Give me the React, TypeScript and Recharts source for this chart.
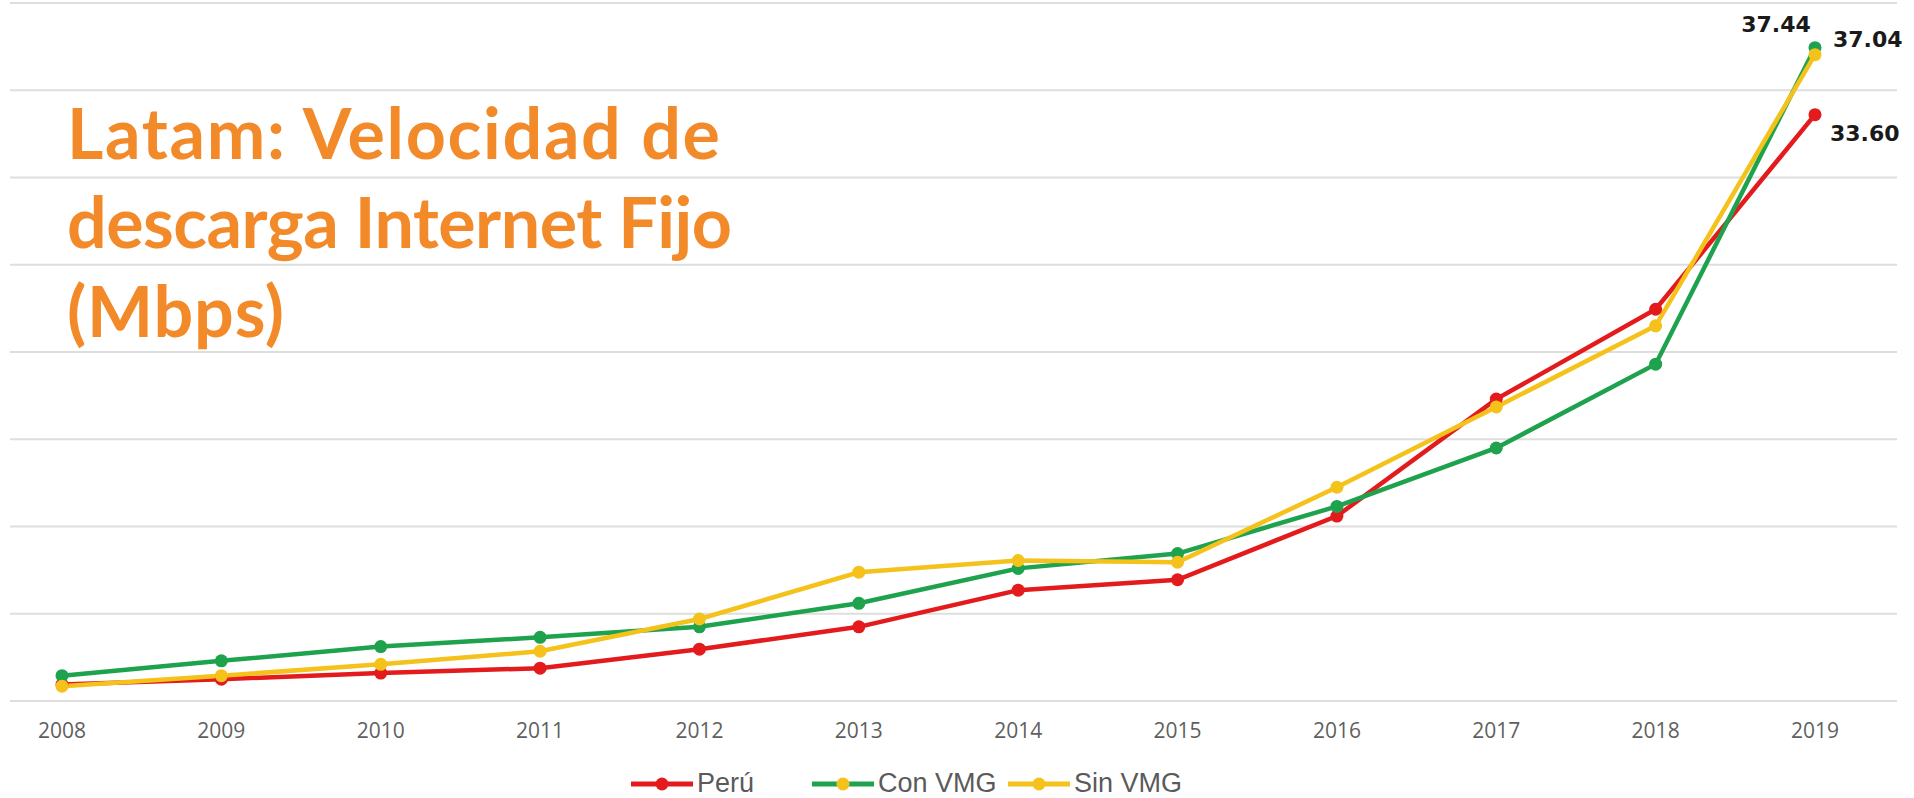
import React from 'react';
import { LineChart, Line, XAxis, YAxis, CartesianGrid, Legend, LabelList } from 'recharts';

const years = ['2008', '2009', '2010', '2011', '2012', '2013', '2014', '2015', '2016', '2017', '2018', '2019'];
const peru = [0.95, 1.25, 1.6, 1.88, 2.97, 4.25, 6.35, 6.95, 10.6, 17.3, 22.45, 33.6];
const conVMG = [1.45, 2.3, 3.12, 3.65, 4.25, 5.6, 7.6, 8.45, 11.15, 14.5, 19.3, 37.44];
const sinVMG = [0.85, 1.45, 2.1, 2.85, 4.7, 7.38, 8.05, 7.95, 12.25, 16.85, 21.5, 37.04];
const yTicks = [0, 5, 10, 15, 20, 25, 30, 35, 40];
const titleLines = ['Latam: Velocidad de', 'descarga Internet Fijo', '(Mbps)'];
const seriesOrder = ['peru', 'con', 'sin'];

const data = years.map((y, i) => ({ year: y, peru: peru[i], con: conVMG[i], sin: sinVMG[i] }));

const COLORS = { peru: '#e31b1d', con: '#1fa24d', sin: '#f4c21a' };
const LEGEND_DOT = { peru: '#e31b1d', con: '#f4c21a', sin: '#f4c21a' };
const LEGEND_ITEM_W = [181, 196, 180];
const TITLE_W = [653, 665, 217];
const LABEL_OFFSET: Record<string, { dx: number; dy: number; anchor: string }> = {
  peru: { dx: 15, dy: 26, anchor: 'start' },
  con: { dx: -39, dy: -16, anchor: 'middle' },
  sin: { dx: 18, dy: -8, anchor: 'start' },
};

const Tick = (props: any) => {
  const { x, y, payload } = props;
  return (
    <text x={x} y={y} dy={37} textAnchor="middle" fill="#5f5f5f" fontSize={21} fontFamily="'Open Sans', sans-serif">
      {payload.value}
    </text>
  );
};

const makeLabel = (key: string) => (props: any) => {
  const { x, y, value, index } = props;
  if (index !== years.length - 1) return null;
  const o = LABEL_OFFSET[key];
  return (
    <text x={x + o.dx} y={y + o.dy} textAnchor={o.anchor} fill="#1a1a1a" fontSize={22} fontWeight="bold" fontFamily="'DejaVu Sans', sans-serif">
      {Number(value).toFixed(2)}
    </text>
  );
};

const LegendContent = (props: any) => {
  const payload = [...(props.payload || [])].sort(
    (a: any, b: any) => seriesOrder.indexOf(a.dataKey) - seriesOrder.indexOf(b.dataKey)
  );
  return (
    <div style={{ display: 'flex', alignItems: 'center', fontFamily: "'Liberation Sans', Arial, sans-serif", fontSize: 27, color: '#5a5a5a' }}>
      {payload.map((p: any, i: number) => (
        <div key={p.dataKey} style={{ display: 'flex', alignItems: 'center', width: LEGEND_ITEM_W[i], whiteSpace: 'nowrap' }}>
          <svg width={62} height={16} style={{ marginRight: 4, flexShrink: 0 }}>
            <line x1={0} y1={8} x2={62} y2={8} stroke={p.color} strokeWidth={5} />
            <circle cx={31} cy={8} r={6.5} fill={(LEGEND_DOT as any)[p.dataKey]} />
          </svg>
          <span>{p.value}</span>
        </div>
      ))}
    </div>
  );
};

export default function App() {
  return (
    <div style={{ position: 'absolute', left: 0, top: 0, width: 1914, height: 798, background: '#fff' }}>
      <LineChart width={1914} height={798} data={data} margin={{ top: 3, right: 17, left: 10, bottom: 67 }}>
        <CartesianGrid horizontal vertical={false} stroke="#dedede" strokeWidth={2} />
        <XAxis
          dataKey="year"
          axisLine={false}
          tickLine={false}
          tickSize={0}
          tickMargin={0}
          height={30}
          padding={{ left: 52, right: 82 }}
          tick={<Tick />}
          interval={0}
        />
        <YAxis hide domain={[0, 40]} ticks={yTicks} />
        <Legend
          layout="horizontal"
          verticalAlign="middle"
          align="center"
          wrapperStyle={{ top: 768, left: 631, width: 760 }}
          content={<LegendContent />}
        />
        <Line dataKey="peru" name="Perú" stroke={COLORS.peru} strokeWidth={4.5} dot={{ r: 6.5, fill: COLORS.peru, stroke: 'none' }} isAnimationActive={false}>
          <LabelList dataKey="peru" content={makeLabel('peru')} />
        </Line>
        <Line dataKey="con" name="Con VMG" stroke={COLORS.con} strokeWidth={4.5} dot={{ r: 6.5, fill: COLORS.con, stroke: 'none' }} isAnimationActive={false}>
          <LabelList dataKey="con" content={makeLabel('con')} />
        </Line>
        <Line dataKey="sin" name="Sin VMG" stroke={COLORS.sin} strokeWidth={4.5} dot={{ r: 6.5, fill: COLORS.sin, stroke: 'none' }} isAnimationActive={false}>
          <LabelList dataKey="sin" content={makeLabel('sin')} />
        </Line>
      </LineChart>
      <svg width={900} height={360} style={{ position: 'absolute', left: 0, top: 0, pointerEvents: 'none' }}>
        {titleLines.map((t, i) => (
          <text
            key={i}
            x={67}
            y={159 + i * 89}
            fill="#f28a2a"
            fontSize={70}
            fontWeight="bold"
            fontFamily="Lato, sans-serif"
            textLength={TITLE_W[i]}
            lengthAdjust="spacing"
          >
            {t}
          </text>
        ))}
      </svg>
    </div>
  );
}
